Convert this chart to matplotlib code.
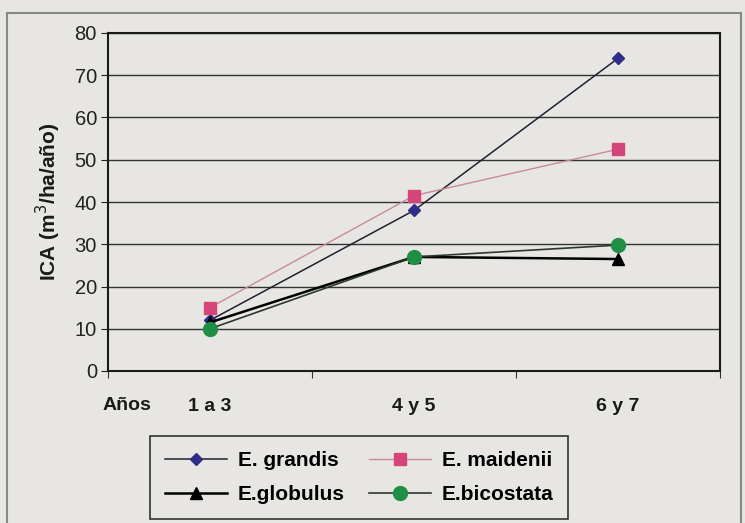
import matplotlib
matplotlib.use("Agg")
import matplotlib.pyplot as plt
from matplotlib.patches import Rectangle

periodos = ["1 a 3", "4 y 5", "6 y 7"]
grandis = [12, 38, 74]
maidenii = [15, 41.5, 52.5]
globulus = [11.5, 27, 26.5]
bicostata = [10, 27, 29.8]

bg = "#e7e6e3"
plt.rcParams['font.family'] = ['Liberation Sans', 'DejaVu Sans']

fig = plt.figure(figsize=(7.45, 5.23), dpi=100, facecolor=bg)
ax = fig.add_axes([108/745, 1 - 371/523, 612/745, 338/523])
ax.set_facecolor(bg)

x = range(len(periodos))
l1, = ax.plot(x, grandis, color="#202030", lw=1.1, marker="D", ms=6,
              mfc="#2e2e8a", mec="#2e2e8a", label="E. grandis")
l2, = ax.plot(x, maidenii, color="#c98a9a", lw=1.0, marker="s", ms=9,
              mfc="#d6457a", mec="#d6457a", label="E. maidenii")
l3, = ax.plot(x, globulus, color="black", lw=1.8, marker="^", ms=8,
              mfc="black", mec="black", label="E.globulus")
l4, = ax.plot(x, bicostata, color="#2a3a2a", lw=1.2, marker="o", ms=10,
              mfc="#1f8f45", mec="#1f8f45", label="E.bicostata")

ax.set_xlim(-0.5, 2.5)
ax.set_ylim(0, 80)
ax.set_yticks(range(0, 81, 10))
ax.set_xticks([-0.5, 0.5, 1.5, 2.5])
ax.set_xticklabels([])
ax.tick_params(axis='x', length=5, direction='out', color='#333333')
ax.tick_params(axis='y', length=5, labelsize=14.5, colors='#222222', pad=3)
ax.yaxis.grid(True, color="#333333", lw=1.0)
ax.set_axisbelow(True)
for s in ax.spines.values():
    s.set_linewidth(1.5)
    s.set_color("#1a1a1a")

# category labels sit below the axis
for i, p in enumerate(periodos):
    ax.text(i, -8.3, p, ha='center', va='center', fontsize=14,
            fontweight='bold', color='#1a1a1a')
fig.text(127/745, 1 - 405/523, "Años", ha='center', va='center',
         fontsize=14, fontweight='bold', color='#1a1a1a')

ax.set_ylabel("ICA (m$^3$/ha/año)", fontsize=15, fontweight='bold',
              color='#1a1a1a', labelpad=8)

leg = fig.legend([l1, l3, l2, l4],
                 ["E. grandis", "E.globulus", "E. maidenii", "E.bicostata"],
                 ncol=2, loc='lower left',
                 bbox_to_anchor=(150/745, 4/523, 418/745, 90/523),
                 mode='expand', fontsize=15, frameon=True, fancybox=False,
                 edgecolor='#333333', facecolor=bg, framealpha=1,
                 handlelength=3, handletextpad=0.5, columnspacing=2.5,
                 labelspacing=0.75, borderpad=0.7, borderaxespad=0)
for t in leg.get_texts():
    t.set_fontweight('bold')
leg.get_frame().set_linewidth(1.2)

# outer frame of the chart
fig.patches.append(Rectangle((7/745, -0.05), 734/745, 1.05 - 13/523,
                             transform=fig.transFigure, fill=False,
                             edgecolor='#888888', lw=1.5))

fig.savefig("out.png", dpi=100, facecolor=bg)
